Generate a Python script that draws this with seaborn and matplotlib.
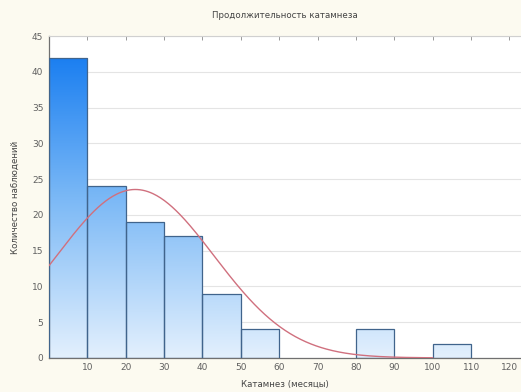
import numpy as np
import matplotlib
matplotlib.use("Agg")
import matplotlib.pyplot as plt
import seaborn as sns
from matplotlib.colors import LinearSegmentedColormap

# ---- data ----
bin_edges = [0, 10, 20, 30, 40, 50, 60, 70, 80, 90, 100, 110]
bin_centers = [5, 15, 25, 35, 45, 55, 65, 75, 85, 95, 105]
counts = [42, 24, 19, 17, 9, 4, 0, 0, 4, 0, 2]
x_ticks = [10, 20, 30, 40, 50, 60, 70, 80, 90, 100, 110, 120]
y_ticks = [0, 5, 10, 15, 20, 25, 30, 35, 40, 45]
curve_mean = 22.5
curve_sd = 20.5
title = "Продолжительность катамнеза"
xlabel = "Катамнез (месяцы)"
ylabel = "Количество наблюдений"

sns.set_theme(style="white")
plt.rcParams['font.family'] = ['DejaVu Sans']

fig = plt.figure(figsize=(5.21, 3.92), dpi=100)
fig.patch.set_facecolor('#fcfaf0')
ax = fig.add_axes([0.094, 0.087, 0.906, 0.821])
ax.set_facecolor('white')

sns.histplot(x=bin_centers, weights=counts, bins=bin_edges, ax=ax,
             stat='count', element='bars', fill=True,
             color='#4a9af0', edgecolor='#40648c', linewidth=0.9, alpha=1)

xmax, ymax = 123, 45
ax.set_xlim(0, xmax)
ax.set_ylim(0, ymax)

# gradient fill for each bar
cmap = LinearSegmentedColormap.from_list('g', ['#e3f0fd', '#7ab8f6', '#0c76f0'])
grad = np.linspace(0, 1, 256).reshape(-1, 1)
for p in list(ax.patches):
    if p.get_height() <= 0:
        p.set_visible(False)
        continue
    p.set_facecolor('none')
    p.set_zorder(3)
    im = ax.imshow(grad, cmap=cmap, origin='lower', aspect='auto',
                   extent=[0, xmax, 0, ymax], zorder=2)
    im.set_clip_path(p)
ax.set_xlim(0, xmax)
ax.set_ylim(0, ymax)

# fitted normal curve
xc = np.linspace(0, 100, 300)
yc = sum(counts) * 10 / (curve_sd * np.sqrt(2 * np.pi)) * np.exp(-0.5 * ((xc - curve_mean) / curve_sd) ** 2)
sns.lineplot(x=xc, y=yc, ax=ax, color='#d0707e', linewidth=1.0, zorder=4)

ax.set_xticks(x_ticks)
ax.set_yticks(y_ticks)
ax.tick_params(axis='both', labelsize=6.5, labelcolor='#606060', direction='in',
               length=3, color='#888888', width=0.6, pad=4)
ax.tick_params(axis='x', top=True)
ax.yaxis.grid(True, color='#e4e4e4', linewidth=0.8, zorder=0)
ax.set_axisbelow(True)
for s in ['left', 'bottom']:
    ax.spines[s].set_color('#707070')
    ax.spines[s].set_linewidth(0.9)
ax.spines['top'].set_color('#d0d0d0')
ax.spines['top'].set_linewidth(0.8)
ax.spines['right'].set_visible(False)

ax.set_title(title, fontsize=6.2, color='#444444', pad=13)
ax.set_xlabel(xlabel, fontsize=6.2, color='#444444', labelpad=5)
ax.set_ylabel(ylabel, fontsize=6.2, color='#444444', labelpad=9)

fig.savefig('out.png', dpi=100, facecolor=fig.get_facecolor())
